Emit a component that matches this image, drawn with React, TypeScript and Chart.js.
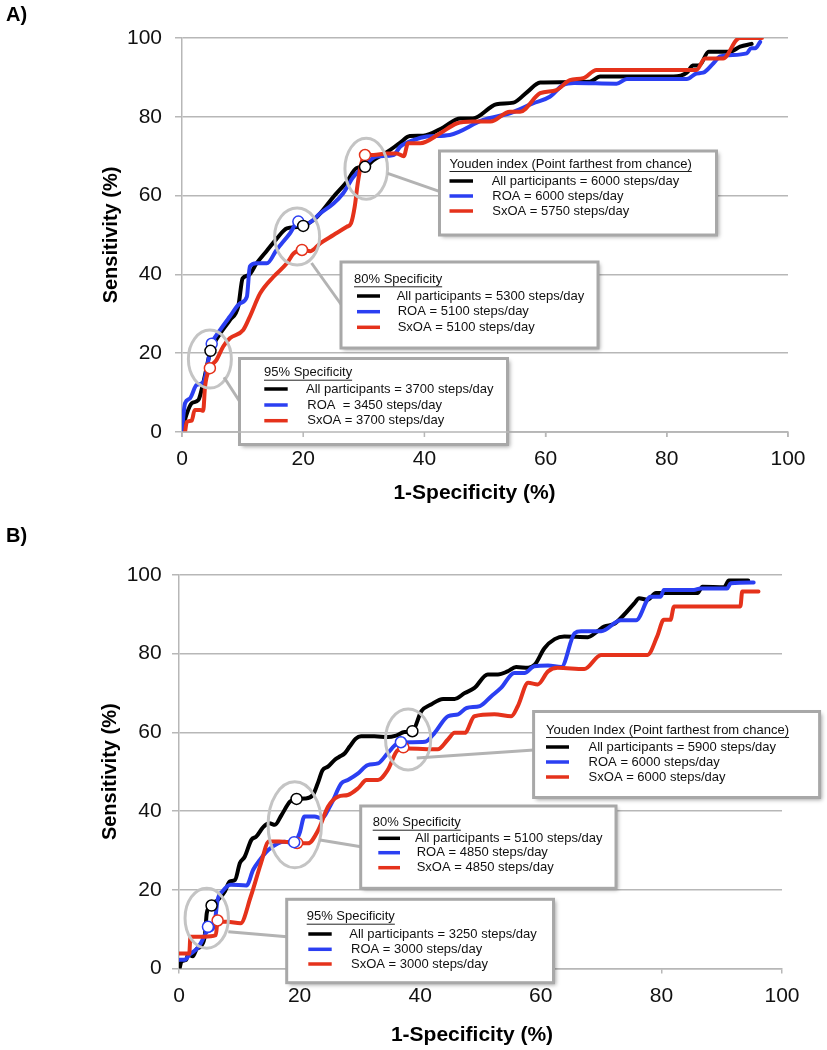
import React, { useEffect, useRef } from "react";
import { Chart, registerables } from "chart.js";

Chart.register(...registerables);

const FONT = "'Liberation Sans', Arial, Helvetica, sans-serif";
const BLACK = "#000000";
const BLUE = "#2b3ff2";
const RED = "#e5321b";
const GRID = "#b7b7b7";
const RING = "#c4c4c4";
const POINTER = "#b3b3b3";
const BOX_BORDER = "#a8a8a8";

const X_TICKS = [0, 20, 40, 60, 80, 100];
const Y_TICKS = [0, 20, 40, 60, 80, 100];
const SERIES_NAMES = ["All participants", "ROA", "SxOA"];

// ---------------- Panel A data ----------------
const A_ALL_FPR = [0, 0.8, 1.6, 2.7, 3.5, 4.7, 6.3, 7.9, 9.3, 10, 11, 12.3, 14, 15.6, 17.3, 19, 20, 21.7, 22.8, 25, 27.2, 28.8, 30.2, 31.6, 33.8, 35.9, 37.6, 39.8, 43.1, 45.9, 48, 51.9, 54.7, 56.9, 59.1, 62.4, 67.3, 69, 81.1, 83.3, 84.3, 85.4, 86.9, 90.4, 92.1, 94];
const A_ALL_SENS = [0.5, 4.7, 7.3, 8.1, 12.4, 20.5, 25, 28.4, 32, 39, 39.8, 42.8, 46, 49, 51.7, 52, 52.3, 53.8, 55.5, 59.7, 63.5, 67, 67.3, 69, 71, 73.3, 75.1, 75.2, 77.3, 79.6, 79.6, 83.2, 83.6, 86.2, 88.7, 88.8, 88.9, 90.2, 90.2, 91.2, 93, 93.1, 96.5, 96.5, 97.8, 98.5];

const A_ROA_FPR = [0, 0.5, 1.3, 2.4, 3.5, 4.9, 6.3, 7.9, 9.6, 10.7, 11.2, 12.3, 14, 15.6, 17.8, 19.2, 20.6, 22.8, 25, 26.6, 28.3, 29.9, 32.1, 34.9, 36, 38.2, 40.4, 44.2, 49.7, 54.1, 57.9, 60.7, 62.9, 64.7, 71.7, 73.4, 83.3, 84.9, 86, 87.7, 88.8, 93.2, 93.9, 94.6, 95.4];
const A_ROA_SENS = [0.5, 7.3, 8.5, 11.9, 12.6, 22.3, 25.9, 29.3, 32.7, 34.3, 42, 42.8, 42.8, 46.2, 50.4, 53.4, 52.9, 55.5, 58, 60.6, 64.8, 67.3, 69.9, 70.3, 72.4, 74.1, 75, 75.4, 79.2, 80.9, 83.4, 85.1, 88.1, 88.6, 88.4, 89.6, 89.6, 91, 91.2, 93.6, 95.3, 96.1, 97.4, 97.4, 99];

const A_SXOA_FPR = [0.5, 0.8, 1.6, 2.1, 3, 3.5, 3.8, 4.6, 5.7, 6.8, 7.9, 10.1, 11.2, 12.9, 15.1, 17.3, 18.4, 19.8, 21.2, 22.8, 25, 27.2, 27.9, 28.5, 29, 29.6, 30.2, 31.6, 33.8, 35.4, 36.6, 37.3, 39.3, 42.6, 45.3, 48, 50.9, 54.1, 55.8, 59.1, 61.8, 64, 66.2, 68.4, 84.9, 86.3, 89.3, 91.5, 92.1, 95.7];
const A_SXOA_SENS = [0, 2.6, 2.9, 5.6, 5.6, 5.4, 11.5, 16.2, 18.3, 21.7, 23.8, 25.9, 29.3, 35.2, 39.4, 42.8, 45.3, 46.2, 45.9, 47.9, 50, 52.1, 53, 57.2, 63.1, 68.2, 70.3, 70.3, 70.7, 70.7, 70, 73.3, 73.3, 75.8, 78.3, 78.8, 78.8, 81.3, 81.3, 86, 86.8, 89.3, 89.8, 91.9, 91.9, 94.8, 94.8, 99.5, 100, 100];

// cut-off markers (95% spec, 80% spec, Youden)
const A_MARK_ALL_FPR = [4.7, 20, 30.2];
const A_MARK_ALL_SENS = [20.6, 52.3, 67.3];
const A_MARK_ROA_FPR = [4.9, 19.2];
const A_MARK_ROA_SENS = [22.4, 53.4];
const A_MARK_SXOA_FPR = [4.6, 19.8, 30.2];
const A_MARK_SXOA_SENS = [16.2, 46.2, 70.3];

const A_CALLOUT_TITLES = ["Youden index (Point farthest from chance)", "80% Specificity", "95% Specificity"];
const A_CALLOUT_ALL = ["All participants = 6000 steps/day", "All participants = 5300 steps/day", "All participants = 3700 steps/day"];
const A_CALLOUT_ROA = ["ROA = 6000 steps/day", "ROA = 5100 steps/day", "ROA  = 3450 steps/day"];
const A_CALLOUT_SXOA = ["SxOA = 5750 steps/day", "SxOA = 5100 steps/day", "SxOA = 3700 steps/day"];

// ---------------- Panel B data ----------------
const B_ALL_FPR = [0.1, 0.4, 1.2, 1.5, 2.3, 2.9, 3.7, 4.3, 4.6, 5.3, 6.5, 7.6, 8.4, 9.3, 10.1, 10.9, 12, 12.8, 14, 15, 15.9, 17, 18.4, 19.4, 20.9, 22.2, 23, 23.8, 24.7, 25.8, 26.6, 27.5, 28.3, 29.3, 30.2, 32.4, 34.6, 36, 37.4, 38.7, 40.2, 41.8, 43.8, 45.7, 47.4, 49, 51.2, 52.9, 54.5, 55.9, 57.9, 59, 60.6, 62.3, 63.9, 67.8, 69.4, 70.5, 72.2, 73.8, 75.5, 76.3, 77.7, 79.1, 86, 86.8, 90.4, 91.2, 94.4];
const B_ALL_SENS = [0, 1.8, 2.2, 3.6, 3.1, 4.9, 5.8, 8.5, 14, 16.2, 17.5, 19.6, 22.1, 22.5, 26.8, 28.4, 32.7, 33.5, 36, 36.9, 36.5, 39, 42.4, 43.1, 43.2, 44.1, 47, 50.4, 51.3, 53, 53.8, 54.7, 56.4, 58.4, 59, 59, 58.8, 59.2, 60.1, 60.3, 65.4, 67.1, 68.5, 68.5, 70, 71.3, 74.7, 74.7, 75.5, 76.6, 76.4, 77.2, 81.4, 83.7, 84.4, 84.2, 85.7, 86.9, 87.6, 89.9, 92.8, 94.1, 93.7, 95.4, 95.4, 97, 96.9, 98.6, 98.6];

const B_ROA_FPR = [0.1, 0.9, 1.8, 2.9, 3.6, 4.7, 5.8, 6.4, 7.2, 8.6, 11.2, 12.3, 13.4, 14.8, 16.4, 17.5, 19.1, 20, 20.8, 22.5, 23.6, 25.3, 26.9, 28, 29.7, 31.3, 33, 34.6, 36.3, 38.5, 40.8, 42.4, 44.6, 46.3, 47.7, 49.9, 51.8, 53.4, 55.6, 57.3, 58.9, 61.2, 63.4, 65.6, 66.7, 70, 73.3, 75.8, 78.2, 79.9, 80.4, 85.4, 86.5, 90.9, 91.5, 95.3];
const B_ROA_SENS = [2.2, 2.2, 3.6, 4.9, 6.4, 9.4, 10.6, 17.4, 19.6, 21.3, 21.1, 25.1, 27.6, 30.1, 31.8, 32.2, 31.9, 34.4, 38.6, 38.6, 38.2, 42, 47, 47.9, 49.6, 51.7, 52.1, 54.7, 57.2, 57.5, 57.6, 59.9, 64.1, 64.6, 66.2, 66.7, 69.2, 71.3, 75.1, 75.1, 76.8, 77, 76.6, 85.2, 85.7, 85.7, 88.5, 88.5, 94.5, 94.5, 96.2, 96.2, 96.6, 96.6, 97.9, 98.1];

const B_SXOA_FPR = [0, 1.7, 1.9, 4.1, 6.1, 6.4, 8, 10.2, 11.9, 13.6, 14.9, 16.6, 19.6, 21.4, 23.1, 24.7, 26.4, 28, 29.7, 31.1, 33, 34.6, 36.3, 37.9, 42.9, 44.6, 45.7, 47.4, 49, 52.3, 55.1, 56.2, 57.9, 59.5, 61.2, 62.8, 67.2, 70, 77.7, 79.3, 80.4, 81.5, 82.1, 93.1, 93.4, 96.1];
const B_SXOA_SENS = [3.8, 3.8, 8.1, 8.1, 8.5, 11.9, 11.9, 11.5, 18.3, 26.8, 32.3, 32.3, 31.9, 31.8, 35.2, 41.1, 43.7, 44.1, 45.8, 47.9, 47.9, 50.4, 55.5, 55.9, 55.7, 58.2, 59.9, 59.9, 64.1, 64.6, 64.1, 66.7, 72.6, 72.2, 75.5, 76.4, 76.1, 79.7, 79.7, 84.4, 88.6, 88.6, 92, 92, 95.8, 95.8];

const B_MARK_ALL_FPR = [5.4, 19.5, 38.7];
const B_MARK_ALL_SENS = [16, 43.1, 60.3];
const B_MARK_ROA_FPR = [4.8, 19.1, 36.8];
const B_MARK_ROA_SENS = [10.6, 32.1, 57.5];
const B_MARK_SXOA_FPR = [6.4, 19.6, 37.2];
const B_MARK_SXOA_SENS = [12.2, 31.9, 56.2];

const B_CALLOUT_TITLES = ["Youden Index (Point farthest from chance)", "80% Specificity", "95% Specificity"];
const B_CALLOUT_ALL = ["All participants = 5900 steps/day", "All participants = 5100 steps/day", "All participants = 3250 steps/day"];
const B_CALLOUT_ROA = ["ROA = 6000 steps/day", "ROA = 4850 steps/day", "ROA = 3000 steps/day"];
const B_CALLOUT_SXOA = ["SxOA = 6000 steps/day", "SxOA = 4850 steps/day", "SxOA = 3000 steps/day"];

// ---------------- Layout (positions / sizes, not data) ----------------
type Ring = { x: number; y: number; rx: number; ry: number };
type Box = {
  x: number; y: number; w: number; h: number;
  titleX: number; titleY: number;
  lineX: number[]; textX: number[]; rows: number[];
  pointer: number[];
};
type Panel = {
  height: number; top: number; label: string; labelY: number;
  padTop: number; padRight: number; yAxisWidth: number; bottom: number;
  yTickPad: number; xTickPad: number; yTitlePad: number;
  xTitleX: number; xTitleY: number; axisOnTop: boolean;
  rings: Ring[]; boxes: Box[];
};

const PANEL_A: Panel = {
  height: 520, top: 0, label: "A)", labelY: 15,
  padTop: 38, padRight: 39, yAxisWidth: 182, bottom: 432,
  yTickPad: 13, xTickPad: 10, yTitlePad: 99.7,
  xTitleX: 474.5, xTitleY: 493, axisOnTop: true,
  rings: [
    { x: 4.6, y: 18.5, rx: 21.5, ry: 29 },
    { x: 19, y: 49.6, rx: 22.5, ry: 28.5 },
    { x: 30.4, y: 66.8, rx: 21.3, ry: 30.5 },
  ],
  boxes: [
    { x: 439.5, y: 151, w: 277, h: 84, titleX: 449.5, titleY: 164, lineX: [449.5, 473], textX: [491.7, 492.3, 492.3], rows: [181, 196, 211], pointer: [387.7, 173.3, 440, 191.7] },
    { x: 341, y: 262, w: 257, h: 86, titleX: 354, titleY: 279.3, lineX: [357, 380], textX: [396.7, 397.7, 397.7], rows: [296, 311.7, 327.3], pointer: [311.5, 263, 341.5, 305] },
    { x: 239.5, y: 358.5, w: 268, h: 86, titleX: 264, titleY: 372.7, lineX: [264.3, 287.7], textX: [306, 307.3, 307.3], rows: [389, 405, 420.7], pointer: [224, 377.3, 240, 402] },
  ],
};

const PANEL_B: Panel = {
  height: 530, top: 520, label: "B)", labelY: 16,
  padTop: 55, padRight: 45, yAxisWidth: 179, bottom: 448.5,
  yTickPad: 10.3, xTickPad: 10.5, yTitlePad: 98,
  xTitleX: 472, xTitleY: 515, axisOnTop: false,
  rings: [
    { x: 4.6, y: 12.8, rx: 21.7, ry: 30 },
    { x: 19.2, y: 36.5, rx: 26.7, ry: 43 },
    { x: 38, y: 58.2, rx: 22.6, ry: 30.5 },
  ],
  boxes: [
    { x: 533.6, y: 191.5, w: 286, h: 86, titleX: 546, titleY: 210, lineX: [546, 569], textX: [588.5, 588.6, 588.6], rows: [227, 242, 257], pointer: [416.7, 238, 534, 230] },
    { x: 360.7, y: 286, w: 255.3, h: 82.3, titleX: 372.7, titleY: 302.7, lineX: [378.3, 400], textX: [415, 416.7, 416.7], rows: [318.3, 332.7, 347.7], pointer: [320, 320, 361, 326.7] },
    { x: 286.7, y: 379.3, w: 266.8, h: 83.4, titleX: 306.7, titleY: 396.7, lineX: [308.3, 331.7], textX: [349.3, 351, 351], rows: [414, 429.3, 444], pointer: [228.3, 411.7, 287, 416.7] },
  ],
};

const pts = (xs: number[], ys: number[]) => xs.map((x, i) => ({ x, y: ys[i] }));

type PanelData = {
  lines: { x: number[]; y: number[] }[];
  marks: { x: number[]; y: number[] }[];
  titles: string[];
  rowsText: string[][];
};

const DATA_A: PanelData = {
  lines: [
    { x: A_ALL_FPR, y: A_ALL_SENS },
    { x: A_ROA_FPR, y: A_ROA_SENS },
    { x: A_SXOA_FPR, y: A_SXOA_SENS },
  ],
  marks: [
    { x: A_MARK_ALL_FPR, y: A_MARK_ALL_SENS },
    { x: A_MARK_ROA_FPR, y: A_MARK_ROA_SENS },
    { x: A_MARK_SXOA_FPR, y: A_MARK_SXOA_SENS },
  ],
  titles: A_CALLOUT_TITLES,
  rowsText: [A_CALLOUT_ALL, A_CALLOUT_ROA, A_CALLOUT_SXOA],
};

const DATA_B: PanelData = {
  lines: [
    { x: B_ALL_FPR, y: B_ALL_SENS },
    { x: B_ROA_FPR, y: B_ROA_SENS },
    { x: B_SXOA_FPR, y: B_SXOA_SENS },
  ],
  marks: [
    { x: B_MARK_ALL_FPR, y: B_MARK_ALL_SENS },
    { x: B_MARK_ROA_FPR, y: B_MARK_ROA_SENS },
    { x: B_MARK_SXOA_FPR, y: B_MARK_SXOA_SENS },
  ],
  titles: B_CALLOUT_TITLES,
  rowsText: [B_CALLOUT_ALL, B_CALLOUT_ROA, B_CALLOUT_SXOA],
};

const COLORS = [BLACK, BLUE, RED];

function makePlugin(panel: Panel, data: PanelData) {
  return {
    id: "rocCallouts",
    afterDatasetsDraw(chart: any) {
      const ctx: CanvasRenderingContext2D = chart.ctx;
      const xs = chart.scales.x;
      const ys = chart.scales.y;
      const area = chart.chartArea;
      ctx.save();
      // rings around cut-off points
      ctx.strokeStyle = RING;
      ctx.lineWidth = 3;
      panel.rings.forEach((r) => {
        ctx.beginPath();
        ctx.ellipse(xs.getPixelForValue(r.x), ys.getPixelForValue(r.y), r.rx, r.ry, 0, 0, Math.PI * 2);
        ctx.stroke();
      });
      // pointers
      ctx.strokeStyle = POINTER;
      ctx.lineWidth = 3;
      panel.boxes.forEach((b) => {
        ctx.beginPath();
        ctx.moveTo(b.pointer[0], b.pointer[1]);
        ctx.lineTo(b.pointer[2], b.pointer[3]);
        ctx.stroke();
      });
      // boxes
      panel.boxes.forEach((b, i) => {
        ctx.save();
        ctx.shadowColor = "rgba(0,0,0,0.35)";
        ctx.shadowBlur = 4;
        ctx.shadowOffsetX = 2;
        ctx.shadowOffsetY = 2;
        ctx.fillStyle = "#ffffff";
        ctx.fillRect(b.x, b.y, b.w, b.h);
        ctx.restore();
        ctx.strokeStyle = BOX_BORDER;
        ctx.lineWidth = 3;
        ctx.strokeRect(b.x, b.y, b.w, b.h);

        ctx.font = `13px ${FONT}`;
        ctx.fillStyle = "#111111";
        ctx.textAlign = "left";
        ctx.textBaseline = "middle";
        const title = data.titles[i];
        ctx.fillText(title, b.titleX, b.titleY);
        const tw = ctx.measureText(title).width;
        ctx.strokeStyle = "#222222";
        ctx.lineWidth = 1;
        ctx.beginPath();
        ctx.moveTo(b.titleX, b.titleY + 7.5);
        ctx.lineTo(b.titleX + tw, b.titleY + 7.5);
        ctx.stroke();

        for (let k = 0; k < 3; k++) {
          ctx.strokeStyle = COLORS[k];
          ctx.lineWidth = 3.5;
          ctx.beginPath();
          ctx.moveTo(b.lineX[0], b.rows[k]);
          ctx.lineTo(b.lineX[1], b.rows[k]);
          ctx.stroke();
          ctx.fillStyle = "#111111";
          ctx.fillText(data.rowsText[k][i], b.textX[k], b.rows[k]);
        }
      });
      if (panel.axisOnTop) {
        ctx.strokeStyle = GRID;
        ctx.lineWidth = 1.5;
        ctx.beginPath();
        ctx.moveTo(area.left, area.bottom);
        ctx.lineTo(area.right, area.bottom);
        X_TICKS.forEach((v) => {
          const px = xs.getPixelForValue(v);
          ctx.moveTo(px, area.bottom);
          ctx.lineTo(px, area.bottom + 5);
        });
        ctx.stroke();
      }
      ctx.restore();
    },
    afterDraw(chart: any) {
      const ctx: CanvasRenderingContext2D = chart.ctx;
      ctx.save();
      ctx.fillStyle = "#000000";
      ctx.textBaseline = "middle";
      ctx.textAlign = "left";
      ctx.font = `bold 20px ${FONT}`;
      ctx.fillText(panel.label, 6, panel.labelY);
      ctx.textAlign = "center";
      ctx.font = `bold 21px ${FONT}`;
      ctx.fillText("1-Specificity (%)", panel.xTitleX, panel.xTitleY);
      ctx.restore();
    },
  };
}

function RocPanel({ panel, data }: { panel: Panel; data: PanelData }) {
  const ref = useRef<HTMLCanvasElement | null>(null);
  useEffect(() => {
    const canvas = ref.current;
    if (!canvas) return;
    const datasets: any[] = [];
    data.marks.forEach((m, k) => {
      datasets.push({
        type: "scatter",
        label: SERIES_NAMES[k] + " cut-off",
        data: pts(m.x, m.y),
        showLine: false,
        pointRadius: 5.5,
        pointBackgroundColor: "#ffffff",
        pointBorderColor: COLORS[k],
        pointBorderWidth: 1.5,
        order: k,
      });
    });
    data.lines.forEach((l, k) => {
      datasets.push({
        type: "line",
        label: SERIES_NAMES[k],
        data: pts(l.x, l.y),
        borderColor: COLORS[k],
        borderWidth: 4,
        pointRadius: 0,
        fill: false,
        cubicInterpolationMode: "monotone",
        borderCapStyle: "round",
        borderJoinStyle: "round",
        order: 7 - k,
      });
    });
    const tickFont = { family: FONT, size: 21 };
    const chart = new Chart(canvas, {
      type: "line",
      data: { datasets },
      options: {
        responsive: false,
        animation: false,
        devicePixelRatio: 1,
        events: [],
        layout: { padding: { left: 0, top: panel.padTop, right: panel.padRight, bottom: 0 } },
        plugins: { legend: { display: false }, tooltip: { enabled: false } },
        scales: {
          x: {
            type: "linear",
            min: 0,
            max: 100,
            afterBuildTicks: (s: any) => {
              s.ticks = X_TICKS.map((v) => ({ value: v }));
            },
            afterFit: (s: any) => {
              s.height = panel.height - panel.bottom;
            },
            grid: { drawOnChartArea: false, drawTicks: true, tickLength: 5, color: GRID, lineWidth: 1.5 },
            border: { display: true, color: GRID, width: 1.5 },
            ticks: { padding: panel.xTickPad, color: "#111111", font: tickFont, maxRotation: 0, autoSkip: false },
          },
          y: {
            type: "linear",
            min: 0,
            max: 100,
            afterBuildTicks: (s: any) => {
              s.ticks = Y_TICKS.map((v) => ({ value: v }));
            },
            afterFit: (s: any) => {
              s.width = panel.yAxisWidth;
            },
            grid: { drawOnChartArea: true, drawTicks: true, tickLength: 7, color: GRID, lineWidth: 1.5 },
            border: { display: true, color: GRID, width: 1.5 },
            ticks: { padding: panel.yTickPad, color: "#111111", font: tickFont, autoSkip: false },
            title: {
              display: true,
              text: "Sensitivity (%)",
              color: "#000000",
              font: { family: FONT, size: 20, weight: "bold" },
              padding: { top: panel.yTitlePad, bottom: 0 },
            },
          },
        },
      } as any,
      plugins: [makePlugin(panel, data)],
    });
    return () => chart.destroy();
  }, [panel, data]);
  return (
    <canvas
      ref={ref}
      width={827}
      height={panel.height}
      style={{ position: "absolute", left: 0, top: panel.top, width: 827, height: panel.height }}
    />
  );
}

export default function App() {
  return (
    <div style={{ position: "absolute", left: 0, top: 0, width: 827, height: 1050, background: "#ffffff" }}>
      <RocPanel panel={PANEL_A} data={DATA_A} />
      <RocPanel panel={PANEL_B} data={DATA_B} />
    </div>
  );
}
